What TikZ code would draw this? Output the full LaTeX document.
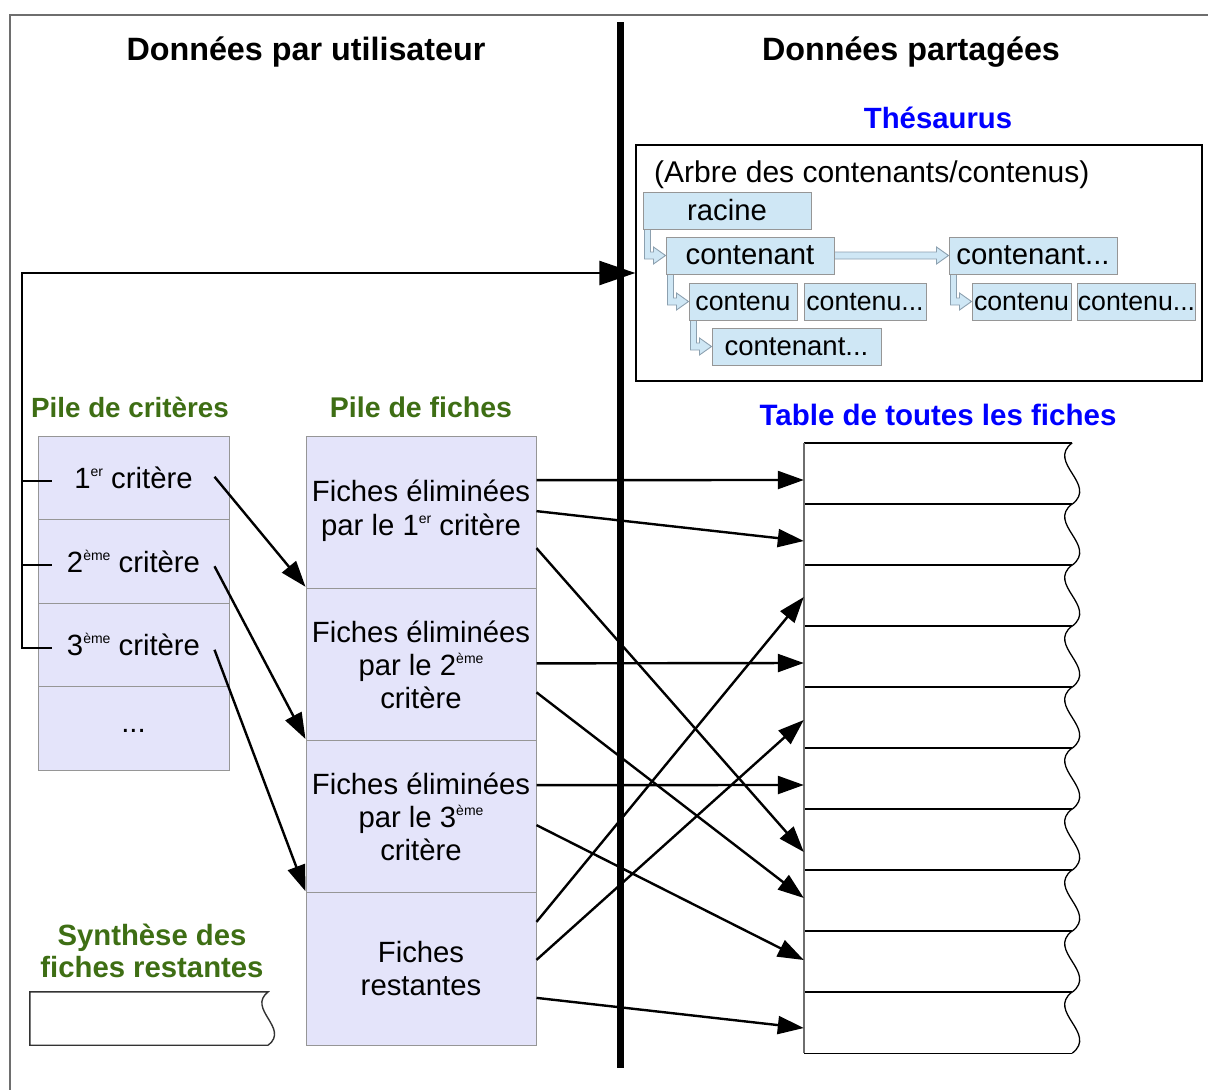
\documentclass[tikz,border=0pt]{standalone}
\usepackage{fontspec}
\setmainfont{Liberation Sans}
\usetikzlibrary{arrows.meta,calc}
\pgfdeclarelayer{bg}
\pgfsetlayers{bg,main}
\definecolor{lav}{RGB}{228,228,250}
\definecolor{lblue}{RGB}{207,231,245}
\definecolor{dgreen}{RGB}{62,110,20}
\definecolor{frameg}{RGB}{110,110,110}
\definecolor{boxg}{RGB}{150,150,150}
\definecolor{elbg}{RGB}{140,160,175}
\newcommand\fsN{\fontsize{29.3}{33}\selectfont}
\newcommand\fsH{\fontsize{32.3}{36}\selectfont\bfseries}
\newcommand\fsL{\fontsize{29.3}{32}\selectfont\bfseries}
\newcommand\supr[1]{\raisebox{0.41em}{\fontsize{14}{14}\selectfont #1}}
% elbow arrow: #1 source node, #2 target node
\newcommand\elbowarrow[2]{%
  \filldraw[elbowst] let \p1=(#1.south west), \p2=(#2.west) in
  (\x1+2pt,\y1) -- (\x1+2pt,\y2-3.5pt) -- (\x2-12pt,\y2-3.5pt) -- (\x2-12pt,\y2-8.5pt)
  -- (\x2,\y2) -- (\x2-12pt,\y2+8.5pt) -- (\x2-12pt,\y2+3.5pt) -- (\x1+8pt,\y2+3.5pt)
  -- (\x1+8pt,\y1) -- cycle;}
\begin{document}
\begin{tikzpicture}[x=1pt,y=-1pt,
  heading/.style={font=\fsH, anchor=base, inner sep=0},
  grlabel/.style={font=\fsL, anchor=base, inner sep=0, text=dgreen},
  bllabel/.style={font=\fsL, anchor=base, inner sep=0, text=blue},
  crit/.style={draw=boxg, fill=lav, line width=1pt, minimum width=191, minimum height=83.5, inner sep=0, font=\fsN},
  fiche/.style={draw=boxg, fill=lav, line width=1pt, minimum width=230, minimum height=152.25, inner sep=0, font=\fsN, align=center},
  tbox/.style={draw=boxg, fill=lblue, line width=1pt, minimum height=37, inner sep=0, font=\fsN},
  elbowst/.style={draw=elbg, fill=lblue, line width=0.9pt},
  trow/.style={minimum width=268, minimum height=61, inner sep=0},
  arr/.style={line width=2.4pt, -{Triangle[length=26pt,width=18pt]}},
  fbl/.style={line width=2.4pt},
  wave/.style={line width=1.3pt},
]
\useasboundingbox (0,0) rectangle (1208,1090);
% outer frame
\draw[frameg, line width=2pt] (10,1090) -- (10,15) -- (1208,15);
% headings
\node[heading] (h1) at (306,60) {Données par utilisateur};
\node[heading] (h2) at (911,60) {Données partagées};
\node[bllabel] (thl) at (938,128) {Thésaurus};
\node[bllabel, font=\fontsize{29.5}{32}\selectfont\bfseries] (tbl) at (938,425) {Table de toutes les fiches};
\node[grlabel, font=\fontsize{27.8}{32}\selectfont\bfseries] (pcl) at (130,417) {Pile de critères};
\node[grlabel, font=\fontsize{28.5}{32}\selectfont\bfseries] (pfl) at (421,417) {Pile de fiches};
\node[font=\fsL, text=dgreen, align=center, inner sep=0] (synl) at (152,951) {Synthèse des\\fiches restantes};
% thesaurus
\node[draw=black, line width=1.3pt, minimum width=566, minimum height=236, inner sep=0] (thes) at (919,263) {};
\node[font=\fontsize{30}{33}\selectfont, anchor=base west, inner sep=0] (arbre) at (654,182) {(Arbre des contenants/contenus)};
\node[tbox, minimum width=168] (racine) at (727,210.5) {racine};
\node[tbox, minimum width=168] (cont1) at (750,255.5) {contenant};
\node[tbox, minimum width=168] (cont2) at (1033,255.5) {contenant...};
\node[tbox, minimum width=108, font=\fontsize{26.7}{30}\selectfont] (cu1) at (743,301.5) {contenu};
\node[tbox, minimum width=122, font=\fontsize{26.7}{30}\selectfont] (cu2) at (865,301.5) {contenu...};
\node[tbox, minimum width=169, font=\fontsize{27.5}{30}\selectfont] (cont3) at (796.5,346.5) {contenant...};
\node[tbox, minimum width=99, font=\fontsize{26.7}{30}\selectfont] (cu3) at (1021.5,301.5) {contenu};
\node[tbox, minimum width=117, font=\fontsize{26.7}{30}\selectfont] (cu4) at (1136.5,301.5) {contenu...};
% elbow arrows behind the boxes
\begin{pgfonlayer}{bg}
\elbowarrow{racine}{cont1}
\elbowarrow{cont1}{cu1}
\elbowarrow{cu1}{cont3}
\elbowarrow{cont2}{cu3}
\filldraw[elbowst] let \p1=(cont1.east), \p2=(cont2.west) in
  (\x1,\y1+3.5pt) -- (\x2-12pt,\y1+3.5pt) -- (\x2-12pt,\y1+8.5pt) -- (\x2,\y1)
  -- (\x2-12pt,\y1-8.5pt) -- (\x2-12pt,\y1-3.5pt) -- (\x1,\y1-3.5pt) -- cycle;
\end{pgfonlayer}
% criteria stack
\node[crit] (c1) at (133.5,477.75) {1\supr{er} critère};
\node[crit] (c2) at (133.5,561.25) {2\supr{ème} critère};
\node[crit] (c3) at (133.5,644.75) {3\supr{ème} critère};
\node[crit] (c4) at (133.5,728.25) {\raisebox{-9pt}{...}};
% fiches stack
\node[fiche] (f1) at (421,512.125) {\raisebox{-5pt}{\begin{tabular}{@{}c@{}}Fiches éliminées\\[1pt]par le 1\supr{er} critère\end{tabular}}};
\node[fiche] (f2) at (421,664.375) {Fiches éliminées\\par le 2\supr{ème}\\critère};
\node[fiche] (f3) at (421,816.625) {Fiches éliminées\\par le 3\supr{ème}\\critère};
\node[fiche] (f4) at (421,968.875) {Fiches\\restantes};
% synthesis box
\node[minimum width=238, minimum height=53, inner sep=0] (syn) at (149,1018.5) {};
\draw[line width=1.4pt, black!80] (syn.south east) -- (syn.south west) -- (syn.north west) -- (syn.north east)
  .. controls ([xshift=-22pt,yshift=-17pt]syn.north east) and ([xshift=22pt,yshift=17pt]syn.south east) .. (syn.south east);
% table
\foreach \i in {1,...,10} {
  \node[trow] (r\i) at (938,{473.5+61*(\i-1)}) {};
}
\foreach \i in {1,...,10} {
  \draw[line width=1.4pt] (r\i.north west) -- (r\i.north east);
  \draw[wave] (r\i.north east) .. controls ([xshift=-26pt,yshift=-20pt]r\i.north east) and ([xshift=26pt,yshift=20pt]r\i.south east) .. (r\i.south east);
}
\draw[line width=1.4pt] (r10.south west) -- (r10.south east);
\draw[frameg, line width=1.6pt] (r1.north west) -- (r10.south west);
% separator
\coordinate (sepT) at (620,22);
\coordinate (sepB) at (620,1068);
\draw[line width=7pt] (sepT) -- (sepB);
% feedback connector
\coordinate (bus) at (22,273);
\draw[fbl, -{Triangle[length=36pt,width=24pt]}] ([xshift=14pt,yshift=-3.5pt]c3.west) -| (bus) -- (bus -| thes.west);
\draw[fbl] ([xshift=14pt,yshift=-3.5pt]c1.west) -- ++(-31pt,0);
\draw[fbl] ([xshift=14pt,yshift=-3.5pt]c2.west) -- ++(-31pt,0);
% criteria -> fiches
\draw[arr] ([xshift=-15pt,yshift=1pt]c1.east) -- ([yshift=2pt]f1.south west);
\draw[arr] ([xshift=-15pt,yshift=-5pt]c2.east) -- ([yshift=2pt]f2.south west);
\draw[arr] ([xshift=-15pt,yshift=-5pt]c3.east) -- ([yshift=2pt]f3.south west);
% fiches -> table
\draw[arr] ([yshift=32pt]f1.east) -- ([yshift=-6.5pt]r1.west);
\draw[arr] ([yshift=1pt]f1.east) -- ([yshift=-6.5pt]r2.west);
\draw[arr] ([yshift=-36pt]f1.east) -- ([yshift=-12.5pt]r7.west);
\draw[arr] ([yshift=1pt]f2.east) -- ([yshift=-6.5pt]r4.west);
\draw[arr] ([yshift=-28pt]f2.east) -- ([yshift=2.5pt]r8.west);
\draw[arr] ([yshift=31.5pt]f3.east) -- ([yshift=-6.5pt]r6.west);
\draw[arr] ([yshift=-8.5pt]f3.east) -- ([yshift=1.5pt]r9.west);
\draw[arr] ([yshift=47pt]f4.east) -- ([yshift=-1.5pt]r3.west);
\draw[arr] ([yshift=9pt]f4.east) -- ([yshift=-2.5pt]r5.west);
\draw[arr] ([yshift=-29pt]f4.east) -- ([yshift=-5.5pt]r10.west);
\end{tikzpicture}
\end{document}
